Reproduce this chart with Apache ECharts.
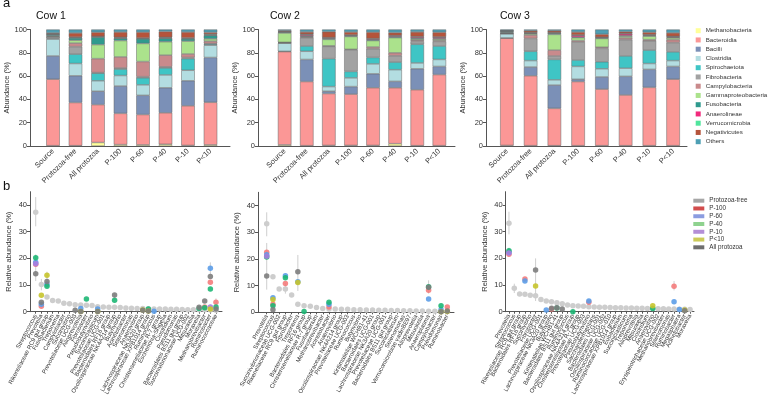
<!DOCTYPE html>
<html><head><meta charset="utf-8">
<script src="https://cdn.jsdelivr.net/npm/echarts@6.0.0/dist/echarts.min.js"></script>
<style>html,body{margin:0;padding:0;background:#fff}#c{width:768px;height:400px}</style>
</head><body><div id="c"></div><script>
const FONT = 'Liberation Sans, Arial, sans-serif';
// ---------- Panel a data ----------
const sampleCats = ['Source','Protozoa-free','All protozoa','P-100','P-60','P-40','P-10','P<10'];
const classNames = ['Methanobacteria','Bacteroidia','Bacilli','Clostridia','Spirochaetota','Fibrobacteria','Campylobacteria','Gammaproteobacteria','Fusobacteria','Anaerolineae','Verrucomicrobia','Negativicutes','Others'];
const classColors = ['#ffff99','#fb9796','#7b90b7','#b3dde1','#3fc5c5','#a2a2a2','#c98a8c','#abe28c','#2f9a8e','#f12a7c','#50e59d','#b5543b','#4e9fb4'];
const cow1Abund = [
  [0.3,0.3,3,1.2,1,1.5,0.5,1],
  [57,37,32.5,26.8,26,27,34,36.5],
  [20,23,11.5,23.5,16.5,21.5,21.5,38.5],
  [14.5,10.5,9,9,9,11,9,10.5],
  [0.5,8,6.5,5.5,6,6,10,1],
  [1.5,6.5,0.5,1,1,1,1,0.5],
  [0.3,3,12,9.5,13,10,3,2],
  [0.5,2.5,12,14,15.5,11.5,11,2],
  [1.2,2,6.5,2,4,3,2,3],
  [0.2,0.3,0.3,0.3,0.3,0.3,0.3,0.3],
  [0.3,0.4,0.3,0.5,0.4,0.5,0.5,0.7],
  [0.7,3.5,3.5,4.5,5,5,5,1.5],
  [3,3,2.4,2.2,2.3,1.7,2.2,2.5]
];
const cow2Abund = [
  [1,0.3,0.5,0.5,0.5,2,0.3,0.3],
  [80,55,44.5,44,49.5,48,48,61],
  [0.3,19,2,6.5,12,5.5,18,7],
  [7,7,4,7.5,8.5,10,5,6],
  [0.2,4.5,24,5.5,5.5,6.5,16,11.5],
  [0.3,7,10.5,18.5,7.5,5.5,2.5,4],
  [0.2,0.8,0.5,0.5,1.5,2.5,1,0.8],
  [8,0.5,5.5,11,5.5,13,1,1.2],
  [0.8,0.5,0.8,0.5,0.7,0.8,0.8,0.5],
  [0.2,1,0.5,0.5,0.7,0.7,1,1],
  [0.3,0.3,0.3,0.3,0.3,0.3,0.3,0.3],
  [0.7,2,5,2.5,5.5,2.5,4,4],
  [1,2.1,1.9,2.2,2.3,2.7,2.1,2.4]
];
const cow3Abund = [
  [0.5,0.3,0.3,0.3,0.3,0.3,0.3,0.3],
  [92,60,32,55,48.5,43.5,50,57],
  [0.3,7.5,20,2,10.5,16,15.5,11],
  [3.5,5.5,4.5,11,7,7,5,5],
  [0.2,8,17.5,5.5,6,10.5,11.5,7.5],
  [0.3,11,3,15.5,11.5,14,8,8],
  [0.2,3,5,1.2,1,1.5,1,2.5],
  [0.5,1,13.5,2.5,7.5,1.5,3,1.5],
  [1,0.5,1,0.5,0.5,0.5,0.5,0.5],
  [0.2,0.3,0.3,1.5,0.3,1.5,0.5,0.5],
  [0.3,0.3,0.3,0.3,0.3,0.3,0.3,0.3],
  [0.2,1.5,1.5,2.5,2.5,1.5,2,3],
  [0.8,1.1,1.1,2.2,4.1,1.9,2.4,2.9]
];
// ---------- Panel b data ----------
const groupNames = ['Protozoa-free','P-100','P-60','P-40','P-10','P<10','All protozoa'];
const groupDotColors = ['#cdcdcd','#f47c7c','#5c9de8','#1db774','#a77de0','#c6c42c','#7d7d7d'];
const groupLegendColors = ['#a6a6a6','#d24d4d','#8b9ce0','#8fd28f','#b48fd6','#cccb58','#6e6e6e'];

const c1Genera = ['Streptococcus','Prevotella','Rikenellaceae RC9 gut group','Fusobacterium','Treponema','Campylobacter','Succinivibrio','Prevotellaceae UCG-003','Alloprevotella','Fibrobacter','Pseudobutyrivibrio','Succiniclasticum','Prevotellaceae UCG-001','Bacteroidales RF16 group','Oscillospiraceae NK4A214 group','Butyrivibrio','Acinetobacter','Selenomonas','Anaerovibrio','Lachnospiraceae NK3A20 group','Lachnospiraceae XPB1014 group','Ruminococcus','Christensenellaceae R-7 group','Escherichia-Shigella','Clostridium','Pseudomonas','Bacteroidales BS11 gut group','Succinivibrionaceae UCG-002','Mitsuokella','Moraxella','Methanobrevibacter','Ruminobacter','Ruminococcaceae'];
const c1Free = [37.3,10.2,5.5,4.2,4.0,3.2,3.0,2.6,2.5,2.4,2.3,1.9,1.8,1.7,1.7,1.6,1.4,1.3,1.2,1.2,1.1,1.0,1.0,1.0,0.9,0.9,0.8,0.7,0.7,0.7,0.7,0.6,0.5];
const c1P100 = [[0,17.8],[1,2.0],[30,1.8],[31,11.0],[32,3.5]];
const c1P60 = [[0,18.5],[1,2.8],[2,10.3],[8,1.2],[11,1.0],[21,0.2],[31,16.3]];
const c1P40 = [[0,20.2],[2,9.5],[9,4.8],[14,4.3],[20,1.0],[29,1.2],[30,1.5],[31,8.5],[32,1.8]];
const c1P10 = [[0,18.0],[31,1.8]];
const c1Pl10 = [[1,6.2],[2,13.7],[8,0.1],[11,0.1],[19,0.6],[20,0.3],[31,1.0]];
const c1All = [[0,14.2],[1,3.5],[2,11.3],[7,0.5],[8,0.1],[11,0.1],[14,6.3],[19,0.5],[20,0.3],[29,1.7],[30,4.0],[31,13.2],[32,1.0]];
const c1Err = [[0,32,43],[0,11.5,21.5],[1,8,12.3],[2,9,15],[14,4.5,7],[31,14,18.5],[32,2,5]];

const c2Genera = ['Prevotella','Streptococcus','Succinivibrionaceae UCG-002','Rikenellaceae RC9 gut group','Fibrobacter','Treponema','Bacteroidales RF16 group','Christensenellaceae R-7 group','Fusobacterium','Methanobrevibacter','Acinetobacter','Anaerovibrio','Oscillospiraceae NK4A214 group','Prevotellaceae UCG-003','Ruminococcus','Butyrivibrio','Kiritimatiellae WCHB1-41','Bacteroidales UCG-001','Lachnospiraceae NK3A20 group','Prevotellaceae UCG-001','Bacteroidales BS11 gut group','Succiniclasticum','Selenomonas','Verrucomicrobiae vadinBE97','Alloprevotella','Mitsuokella','Anaeroplasma','Campylobacter','Pseudomonas','Ruminobacter'];
const c2Free = [33.2,13.3,8.7,8.7,6.5,3.0,2.5,2.3,1.8,1.4,1.2,1.2,1.1,1.1,1.0,1.0,0.9,0.9,0.8,0.8,0.7,0.7,0.6,0.6,0.5,0.5,0.4,0.4,0.3,0.3];
const c2P100 = [[0,22.5],[1,3.0],[3,10.8],[10,2.0],[26,8.3],[29,2.0]];
const c2P60 = [[0,21.6],[1,5.5],[3,13.7],[5,11.5],[10,3.0],[26,5.0],[28,1.0]];
const c2P40 = [[0,20.7],[1,2.5],[3,13.0],[6,0.3],[10,3.8],[26,9.6],[28,2.5]];
const c2P10 = [[0,21.0]];
const c2Pl10 = [[1,4.8],[5,11.2],[28,0.2],[29,0.3]];
const c2All = [[0,13.6],[1,1.0],[5,15.2],[26,9.4],[28,0.2],[29,0.5]];
const c2Err = [[0,28.5,37.5],[0,8.5,26],[3,7,11],[5,8,21.5],[26,7,12]];

const c3Genera = ['Prevotella','Streptococcus','Rikenellaceae RC9 gut group','Bacteroidales RF16 group','Succinivibrio','Fibrobacter','Prevotellaceae UCG-001','Lachnospiraceae NK3A20 group','Butyrivibrio','Kiritimatiellae WCHB1-41','Bacteroidales BS11 gut group','Ruminococcus','Oscillospiraceae NK4A214 group','Christensenellaceae R-7 group','Prevotellaceae UCG-003','Pseudobutyrivibrio','Saccharofermentans','Bacteroidales UCG-001','Oscillospiraceae UCG-002','Ruminococcaceae UCG-010','Lachnospiraceae XPB1014 group','Eubacterium','Succiniclasticum','Treponema','Alloprevotella','Mitsuokella','Clostridium','Anaerovibrio','Erysipelotrichaceae UCG-002','Methanobrevibacter','Selenomonas','Ruminobacter','Megasphaera','Acinetobacter','Moraxella'];
const c3Free = [33.2,8.8,6.6,6.5,6.2,6.0,4.6,4.0,3.7,3.4,3.0,2.5,2.2,2.1,2.0,1.9,1.8,1.7,1.7,1.6,1.5,1.5,1.4,1.4,1.3,1.3,1.2,1.2,1.1,1.1,1.0,1.0,0.9,0.9,0.8];
const c3P100 = [[0,21.5],[3,12.3],[8,1.0],[15,3.5],[31,9.5]];
const c3P60 = [[0,22.3],[3,11.5],[7,0.6],[15,4.0],[31,3.7],[32,0.8]];
const c3P40 = [[0,22.9],[9,1.4],[12,0.0],[27,1.2]];
const c3P10 = [[0,22.0]];
const c3Pl10 = [[5,9.6],[27,2.2],[33,0.6]];
const c3All = [[5,15.6],[8,1.3],[9,1.5],[10,1.0],[33,0.4]];
const c3Err = [[0,29,37.5],[0,20.5,24],[1,7,10.5],[5,4,20],[31,8,11.5]];

// ---------- build option ----------
const AX = '#555', TXT = '#333';
const grids = [], xAxes = [], yAxes = [], series = [];
function addGrid(g){ grids.push(g); return grids.length - 1; }

const topPanels = [
  {frame:[30,230], inner:[41.75,221.75], data:cow1Abund},
  {frame:[258,455], inner:[273.6,450.4], data:cow2Abund},
  {frame:[486,687], inner:[495,685], data:cow3Abund}
];
const TOP_T = 29.5, TOP_H = 116.5;
topPanels.forEach((p, i) => {
  const gF = addGrid({left:p.frame[0], top:TOP_T, width:p.frame[1]-p.frame[0], height:TOP_H});
  xAxes.push({gridIndex:gF, type:'value', min:0, max:1, axisLine:{show:true, lineStyle:{color:AX}}, axisTick:{show:false}, axisLabel:{show:false}, splitLine:{show:false}});
  yAxes.push({gridIndex:gF, type:'value', min:0, max:100, interval:20,
    axisLine:{show:true, lineStyle:{color:AX}}, axisTick:{show:true, length:3, lineStyle:{color:AX}},
    axisLabel:{fontSize:7.5, color:TXT, margin:3, fontFamily:FONT}, splitLine:{show:false},
    name:'Abundance (%)', nameLocation:'middle', nameGap:18, nameTextStyle:{fontSize:7.5, color:TXT, fontFamily:FONT}});
  const gB = addGrid({left:p.inner[0], top:TOP_T, width:p.inner[1]-p.inner[0], height:TOP_H});
  xAxes.push({gridIndex:gB, type:'category', data:sampleCats, axisLine:{show:false}, axisTick:{show:false},
    axisLabel:{rotate:45, fontSize:7.5, color:TXT, margin:4, interval:0, fontFamily:FONT}});
  yAxes.push({gridIndex:gB, type:'value', min:0, max:100, show:false});
  const xi = xAxes.length - 1, yi = yAxes.length - 1;
  classNames.forEach((nm, k) => {
    series.push({type:'bar', name:nm, xAxisIndex:xi, yAxisIndex:yi, stack:'cow'+i, data:p.data[k], barWidth:13.5,
      itemStyle:{color:classColors[k], borderColor:'#666', borderWidth:0.5}});
  });
});

const botPanels = [
  {frame:[30,222], inner:[32.9,218.8], zero:311.7, genera:c1Genera, free:c1Free, groups:[c1P100,c1P60,c1P40,c1P10,c1Pl10,c1All], err:c1Err},
  {frame:[258,454], inner:[263.6,450.4], zero:312.3, genera:c2Genera, free:c2Free, groups:[c2P100,c2P60,c2P40,c2P10,c2Pl10,c2All], err:c2Err},
  {frame:[505.7,694], inner:[506.3,692.7], zero:311.7, genera:c3Genera, free:c3Free, groups:[c3P100,c3P60,c3P40,c3P10,c3Pl10,c3All], err:c3Err}
];
const BOT_MAX = 45, BOT_H = 120;
botPanels.forEach((p) => {
  const top = p.zero - BOT_H;
  const gF = addGrid({left:p.frame[0], top:top, width:p.frame[1]-p.frame[0], height:BOT_H});
  xAxes.push({gridIndex:gF, type:'value', min:0, max:1, axisLine:{show:true, lineStyle:{color:AX}}, axisTick:{show:false}, axisLabel:{show:false}, splitLine:{show:false}});
  yAxes.push({gridIndex:gF, type:'value', min:0, max:BOT_MAX, interval:10,
    axisLine:{show:true, lineStyle:{color:AX}},
    axisTick:{show:true, length:3, lineStyle:{color:AX}, customValues:[0,10,20,30,40]},
    axisLabel:{fontSize:7.5, color:TXT, margin:3, fontFamily:FONT, customValues:[0,10,20,30,40]}, splitLine:{show:false},
    name:'Relative abundance (%)', nameLocation:'middle', nameGap:17, nameTextStyle:{fontSize:7.5, color:TXT, fontFamily:FONT}});
  const gD = addGrid({left:p.inner[0], top:top, width:p.inner[1]-p.inner[0], height:BOT_H});
  xAxes.push({gridIndex:gD, type:'category', data:p.genera, axisLine:{show:false},
    axisTick:{show:true, alignWithLabel:true, length:2, lineStyle:{color:AX}},
    axisLabel:{rotate:62, fontSize:6, color:TXT, margin:3, interval:0, fontFamily:FONT}});
  yAxes.push({gridIndex:gD, type:'value', min:0, max:BOT_MAX, show:false});
  const xi = xAxes.length - 1, yi = yAxes.length - 1;
  series.push({type:'custom', xAxisIndex:xi, yAxisIndex:yi, data:p.err, z:1, silent:true,
    encode:{x:0, y:[1,2]},
    renderItem:(params, api) => {
      const a = api.coord([api.value(0), api.value(1)]);
      const b = api.coord([api.value(0), api.value(2)]);
      return {type:'line', shape:{x1:a[0], y1:a[1], x2:b[0], y2:b[1]}, style:{stroke:'#cfcfcf', lineWidth:1}};
    }});
  series.push({type:'scatter', name:groupNames[0], xAxisIndex:xi, yAxisIndex:yi, data:p.free, symbolSize:5.5, z:2,
    itemStyle:{color:groupDotColors[0], opacity:1}});
  p.groups.forEach((g, j) => {
    series.push({type:'scatter', name:groupNames[j+1], xAxisIndex:xi, yAxisIndex:yi, data:g, symbolSize:5.5, z:3,
      itemStyle:{color:groupDotColors[j+1], opacity:0.9}});
  });
});

const tStyle = (fs) => ({fontSize:fs, fontWeight:'normal', color:'#111', fontFamily:FONT});
const option = {
  animation:false,
  textStyle:{fontFamily:FONT},
  title:[
    {text:'a', left:3, top:-3, padding:0, textStyle:tStyle(13)},
    {text:'Cow 1', left:36, top:11, padding:0, textStyle:tStyle(10.5)},
    {text:'Cow 2', left:270, top:11, padding:0, textStyle:tStyle(10.5)},
    {text:'Cow 3', left:500, top:11, padding:0, textStyle:tStyle(10.5)},
    {text:'b', left:3, top:180, padding:0, textStyle:tStyle(13)}
  ],
  legend:[
    {orient:'vertical', left:695.7, top:26.7, padding:0, icon:'rect', itemWidth:5, itemHeight:5, itemGap:1.25, selectedMode:false,
      itemStyle:{borderWidth:0},
      textStyle:{fontSize:6.2, color:TXT, lineHeight:8, fontFamily:FONT, width:70, overflow:'none'}, data:classNames},
    {orient:'vertical', left:693.3, top:197.2, padding:0, icon:'rect', itemWidth:11, itemHeight:4, itemGap:0.77, selectedMode:false,
      itemStyle:{borderWidth:0},
      textStyle:{fontSize:6.3, color:TXT, lineHeight:7, fontFamily:FONT},
      data:groupNames.map((n, i) => ({name:n, itemStyle:{color:groupLegendColors[i], opacity:1}}))}
  ],
  grid:grids, xAxis:xAxes, yAxis:yAxes, series:series
};
const chart = echarts.init(document.getElementById('c'), null, {renderer:'canvas'});
chart.setOption(option);
</script></body></html>
